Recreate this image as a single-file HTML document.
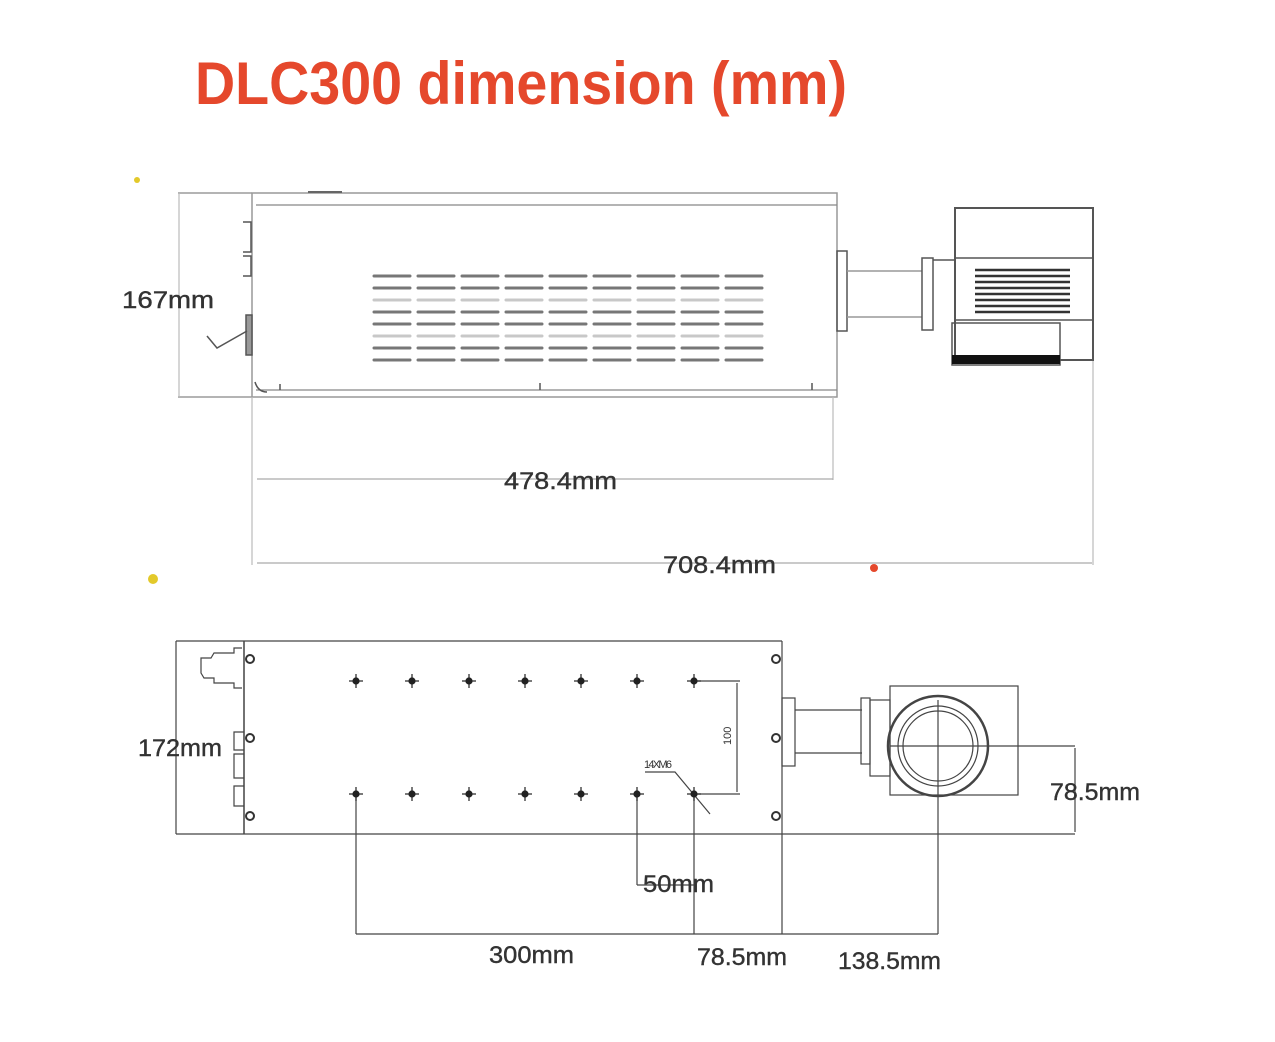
<!DOCTYPE html>
<html><head><meta charset="utf-8"><style>
html,body{margin:0;padding:0;background:#fff}
svg{display:block}
text{font-family:"Liberation Sans",sans-serif}
</style></head><body>
<svg width="1275" height="1042" viewBox="0 0 1275 1042" xmlns="http://www.w3.org/2000/svg">
<text x="195" y="104" font-size="60" font-weight="bold" fill="#e5482c" textLength="652" lengthAdjust="spacingAndGlyphs">DLC300 dimension (mm)</text>

<circle cx="137" cy="180" r="3" fill="#e3c92a"/>
<circle cx="153" cy="579" r="5" fill="#e3c92a"/>
<circle cx="874" cy="568" r="4" fill="#e5482c"/>

<g fill="none" stroke="#888" stroke-width="1.2">
<line x1="178" y1="193" x2="252" y2="193"/>
<line x1="178" y1="397" x2="252" y2="397"/>
<line x1="179" y1="193" x2="179" y2="397" stroke="#bbb"/>
<rect x="252" y="193" width="585" height="204" stroke="#999" stroke-width="1.5"/>
<line x1="256" y1="205" x2="837" y2="205"/>
<line x1="256" y1="390" x2="837" y2="390"/>
<line x1="252" y1="397" x2="252" y2="565" stroke="#bbb"/>
<line x1="833" y1="397" x2="833" y2="480" stroke="#bbb"/>
<line x1="1093" y1="360" x2="1093" y2="565" stroke="#bbb"/>
<line x1="257" y1="479" x2="833" y2="479" stroke="#aaa"/>
<line x1="257" y1="563" x2="1092" y2="563" stroke="#aaa"/>
<line x1="308" y1="192" x2="342" y2="192" stroke="#666" stroke-width="2"/>
</g>
<g fill="none" stroke="#555" stroke-width="1.5">
<path d="M243 222 h8 v30 h-8 M243 256 h8 v20 h-8"/>
<rect x="246" y="315" width="6" height="40" fill="#999"/>
<path d="M207 336 l10 12 l30 -17"/>
<path d="M255 382 q3 10 12 10 M280 390 v-6"/>
<line x1="540" y1="383" x2="540" y2="390"/>
<line x1="812" y1="383" x2="812" y2="390"/>
</g>
<g stroke="#777" stroke-width="3" stroke-linecap="round">
<g id="vr">
<line x1="374" y1="276" x2="410" y2="276"/><line x1="418" y1="276" x2="454" y2="276"/><line x1="462" y1="276" x2="498" y2="276"/><line x1="506" y1="276" x2="542" y2="276"/><line x1="550" y1="276" x2="586" y2="276"/><line x1="594" y1="276" x2="630" y2="276"/><line x1="638" y1="276" x2="674" y2="276"/><line x1="682" y1="276" x2="718" y2="276"/><line x1="726" y1="276" x2="762" y2="276"/>
</g>
<use href="#vr" y="12"/><use href="#vr" y="24" opacity="0.4"/><use href="#vr" y="36"/><use href="#vr" y="48"/><use href="#vr" y="60" opacity="0.4"/><use href="#vr" y="72"/><use href="#vr" y="84"/>
</g>
<g fill="none" stroke="#555" stroke-width="1.5">
<rect x="837" y="251" width="10" height="80"/>
<line x1="847" y1="271" x2="922" y2="271" stroke="#999"/>
<line x1="847" y1="317" x2="922" y2="317" stroke="#999"/>
<rect x="922" y="258" width="11" height="72"/>
<line x1="933" y1="260" x2="955" y2="260"/>
<rect x="955" y="208" width="138" height="152" stroke-width="2"/>
<line x1="955" y1="258" x2="1093" y2="258"/>
<line x1="955" y1="320" x2="1093" y2="320"/>
<rect x="952" y="323" width="108" height="42"/>
</g>
<g stroke="#333" stroke-width="2.5">
<line x1="975" y1="270" x2="1070" y2="270"/><line x1="975" y1="276" x2="1070" y2="276"/><line x1="975" y1="282" x2="1070" y2="282"/><line x1="975" y1="288" x2="1070" y2="288"/><line x1="975" y1="294" x2="1070" y2="294"/><line x1="975" y1="300" x2="1070" y2="300"/><line x1="975" y1="306" x2="1070" y2="306"/><line x1="975" y1="312" x2="1070" y2="312"/>
</g>
<rect x="952" y="355" width="108" height="9" fill="#111"/>

<g font-size="24" fill="#333" stroke="#333" stroke-width="0.4">
<text x="122" y="308" textLength="92" lengthAdjust="spacingAndGlyphs">167mm</text>
<text x="504" y="489" textLength="113" lengthAdjust="spacingAndGlyphs">478.4mm</text>
<text x="663" y="573" textLength="113" lengthAdjust="spacingAndGlyphs">708.4mm</text>
</g>

<g fill="none" stroke="#444" stroke-width="1.2">
<line x1="176" y1="641" x2="782" y2="641"/>
<line x1="176" y1="834" x2="1075" y2="834"/>
<line x1="176" y1="641" x2="176" y2="834"/>
<line x1="244" y1="641" x2="244" y2="834" stroke-width="1.5"/>
<line x1="782" y1="641" x2="782" y2="934"/>
<path d="M242 648 h-8 v5 h-20 l-3 5 h-10 v15 l3 5 h10 v5 h20 v5 h8"/>
<path d="M244 732 h-10 v18 h10 M244 754 h-10 v24 h10 M244 786 h-10 v20 h10"/>
<line x1="694" y1="681" x2="740" y2="681"/>
<line x1="694" y1="794" x2="740" y2="794"/>
<line x1="737" y1="683" x2="737" y2="792"/>
<line x1="356" y1="794" x2="356" y2="934"/>
<line x1="694" y1="794" x2="694" y2="934"/>
<line x1="637" y1="794" x2="637" y2="885"/>
<line x1="637" y1="885" x2="694" y2="885"/>
<line x1="938" y1="700" x2="938" y2="934"/>
<line x1="890" y1="746" x2="1075" y2="746"/>
<line x1="1075" y1="748" x2="1075" y2="832"/>
<line x1="356" y1="934" x2="938" y2="934"/>
<path d="M645 772 h30 l35 42"/>
<rect x="782" y="698" width="13" height="68"/>
<line x1="795" y1="710" x2="862" y2="710"/>
<line x1="795" y1="753" x2="862" y2="753"/>
<rect x="861" y="698" width="9" height="66"/>
<rect x="870" y="700" width="20" height="76"/>
<rect x="890" y="686" width="128" height="109"/>
<circle cx="938" cy="746" r="50" stroke-width="2.5"/>
<circle cx="938" cy="746" r="40"/>
<circle cx="938" cy="746" r="35"/>
</g>
<g fill="none" stroke="#333" stroke-width="2">
<circle cx="250" cy="659" r="4"/><circle cx="250" cy="738" r="4"/><circle cx="250" cy="816" r="4"/>
<circle cx="776" cy="659" r="4"/><circle cx="776" cy="738" r="4"/><circle cx="776" cy="816" r="4"/>
</g>
<g fill="#222" stroke="#222" stroke-width="1.2">
<g id="hr">
<circle cx="356" cy="681" r="3"/><line x1="349" y1="681" x2="363" y2="681"/><line x1="356" y1="674" x2="356" y2="688"/>
<circle cx="412" cy="681" r="3"/><line x1="405" y1="681" x2="419" y2="681"/><line x1="412" y1="674" x2="412" y2="688"/>
<circle cx="469" cy="681" r="3"/><line x1="462" y1="681" x2="476" y2="681"/><line x1="469" y1="674" x2="469" y2="688"/>
<circle cx="525" cy="681" r="3"/><line x1="518" y1="681" x2="532" y2="681"/><line x1="525" y1="674" x2="525" y2="688"/>
<circle cx="581" cy="681" r="3"/><line x1="574" y1="681" x2="588" y2="681"/><line x1="581" y1="674" x2="581" y2="688"/>
<circle cx="637" cy="681" r="3"/><line x1="630" y1="681" x2="644" y2="681"/><line x1="637" y1="674" x2="637" y2="688"/>
<circle cx="694" cy="681" r="3"/><line x1="687" y1="681" x2="701" y2="681"/><line x1="694" y1="674" x2="694" y2="688"/>
</g>
<use href="#hr" y="113"/>
</g>
<text x="0" y="0" font-size="11" fill="#333" transform="translate(731,745) rotate(-90)">100</text>
<text x="644" y="768" font-size="11" fill="#333" textLength="28">14XM6</text>

<g font-size="24" fill="#333" stroke="#333" stroke-width="0.4">
<text x="138" y="756" textLength="84" lengthAdjust="spacingAndGlyphs">172mm</text>
<text x="1050" y="800" textLength="90" lengthAdjust="spacingAndGlyphs">78.5mm</text>
<text x="643" y="892" textLength="71" lengthAdjust="spacingAndGlyphs">50mm</text>
<text x="489" y="963" textLength="85" lengthAdjust="spacingAndGlyphs">300mm</text>
<text x="697" y="965" textLength="90" lengthAdjust="spacingAndGlyphs">78.5mm</text>
<text x="838" y="969" textLength="103" lengthAdjust="spacingAndGlyphs">138.5mm</text>
</g>
</svg>
</body></html>
